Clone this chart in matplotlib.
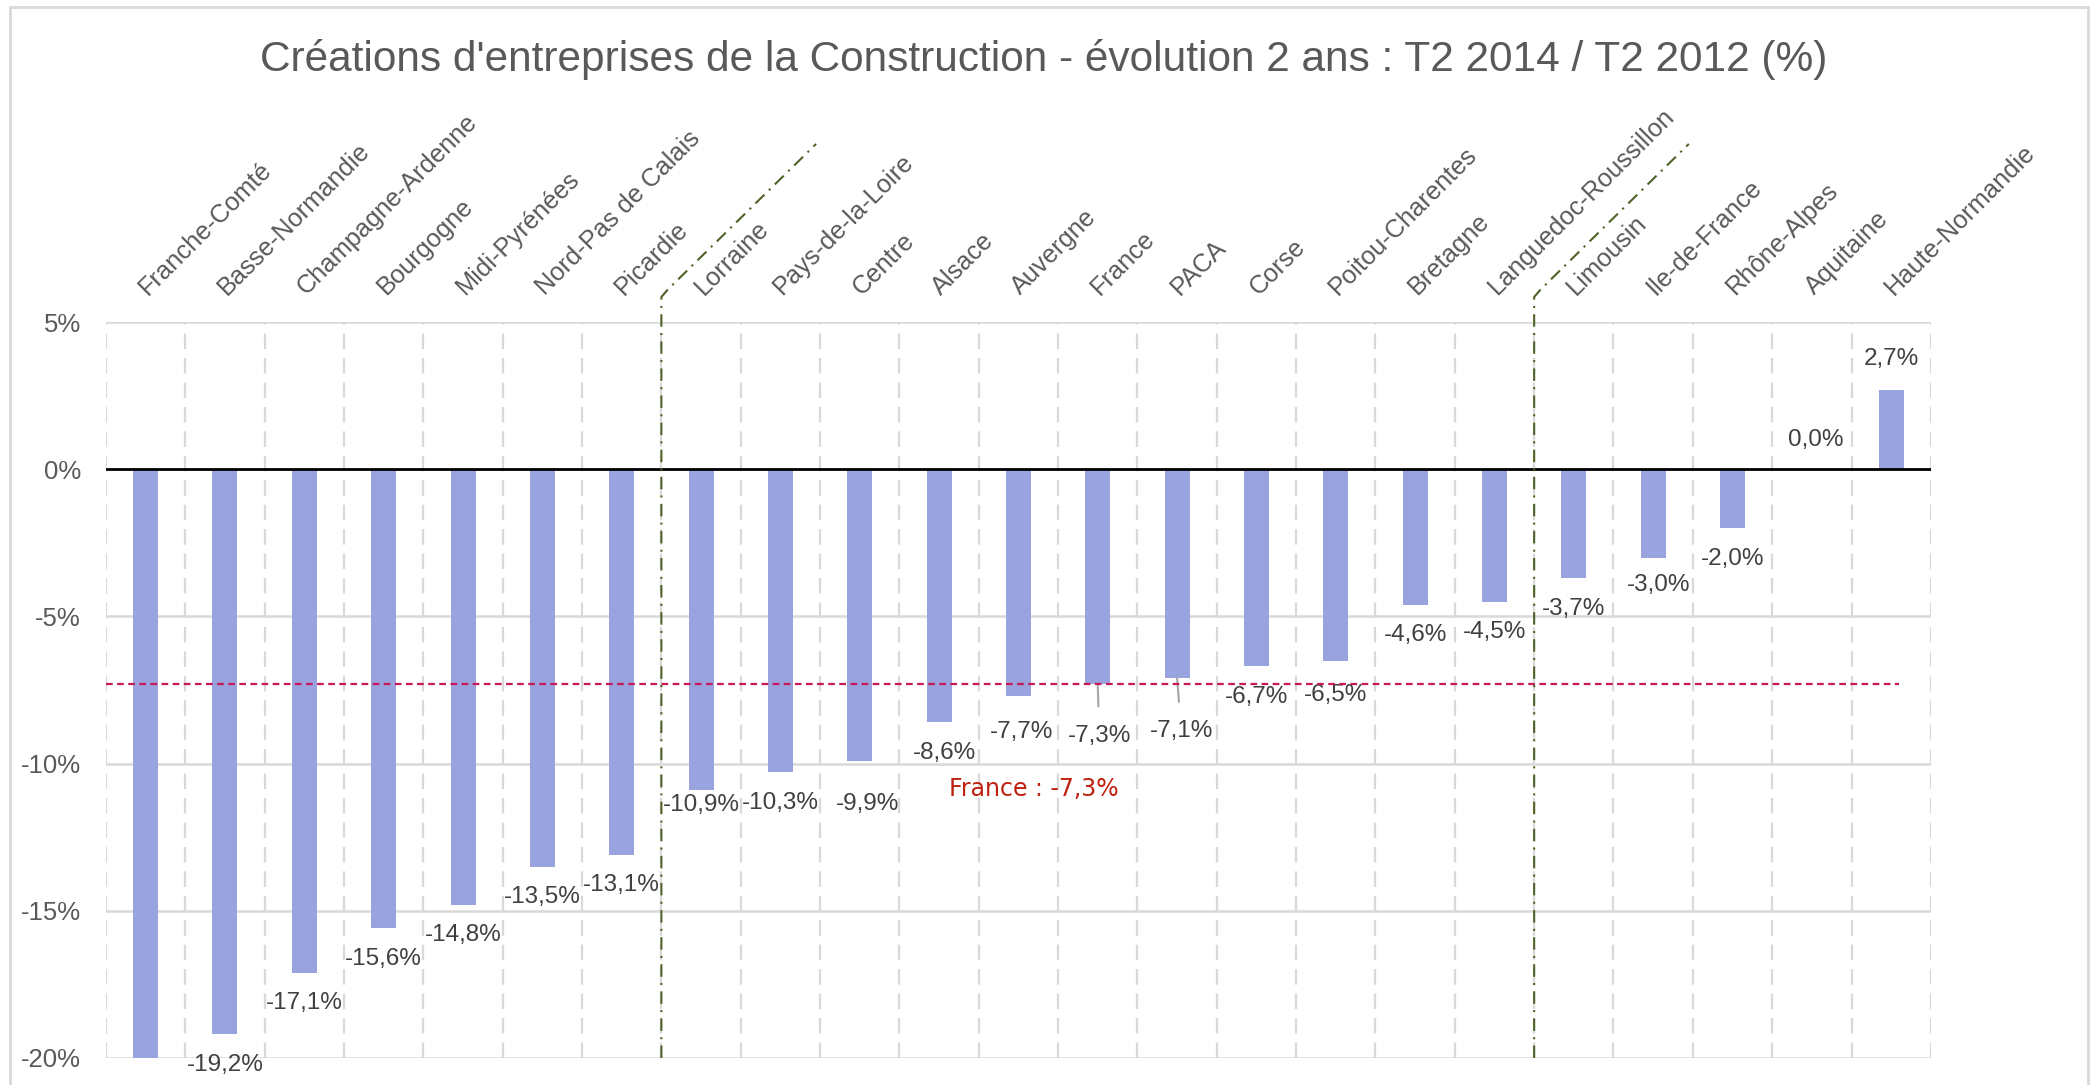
# Créations d'entreprises de la Construction par région, évolution sur 2 ans
import matplotlib
matplotlib.use("Agg")
import matplotlib.pyplot as plt
from matplotlib.patches import Rectangle
from matplotlib.ticker import FuncFormatter

regions = ["Franche-Comté", "Basse-Normandie", "Champagne-Ardenne", "Bourgogne",
           "Midi-Pyrénées", "Nord-Pas de Calais", "Picardie", "Lorraine",
           "Pays-de-la-Loire", "Centre", "Alsace", "Auvergne", "France", "PACA",
           "Corse", "Poitou-Charentes", "Bretagne", "Languedoc-Roussillon",
           "Limousin", "Ile-de-France", "Rhône-Alpes", "Aquitaine", "Haute-Normandie"]
evolution = [-20.3, -19.2, -17.1, -15.6, -14.8, -13.5, -13.1, -10.9, -10.3, -9.9,
             -8.6, -7.7, -7.3, -7.1, -6.7, -6.5, -4.6, -4.5, -3.7, -3.0, -2.0, 0.0, 2.7]
yticks = [-20, -15, -10, -5, 0, 5]

# séparations entre groupes de régions (après ces régions)
separations = ["Picardie", "Languedoc-Roussillon"]
france_val = evolution[regions.index("France")]

# décalages manuels des étiquettes (points) : région -> (dx, dy)
label_shift = {"Lorraine": (0, -11), "Centre": (6, -31), "Auvergne": (2, -26),
               "Alsace": (4, -22), "Poitou-Charentes": (0, -25),
               "Ile-de-France": (4, -20), "Aquitaine": (3, 21)}
leader = {"France": (1, -37), "PACA": (3, -38)}

bar_color = "#99A3DE"
grid_color = "#D9D9D9"
text_color = "#595959"
label_font = ["Liberation Sans", "DejaVu Sans"]

fig = plt.figure(figsize=(20.94, 10.85), dpi=100)
ax = fig.add_axes([0.0506, 0.0249, 0.8715, 0.6783])

x = list(range(len(regions)))
ax.set_xlim(-0.5, len(regions) - 0.5)
ax.set_ylim(yticks[0], yticks[-1])

# grille
for t in yticks:
    if t != 0:
        ax.axhline(t, color=grid_color, lw=1.8, zorder=0)
for b in range(len(regions) + 1):
    ax.axvline(b - 0.5, color=grid_color, lw=1.6, linestyle=(0, (7, 4)), zorder=0)

ax.bar(x, evolution, width=0.315, color=bar_color, zorder=2)
ax.axhline(0, color="black", lw=2, zorder=3)

# moyenne France
ax.hlines(france_val, -0.5, len(regions) - 0.9, color="#C8185A", lw=1.6,
          linestyles=(0, (3, 2)), zorder=4)
ax.text(11.2, -10.85, "France : " + f"{france_val:.1f}%".replace(".", ","),
        color="#C0200F", fontsize=17, ha="center", va="center",
        family="DejaVu Sans")

# étiquettes de valeurs
for i, (r, v) in enumerate(zip(regions, evolution)):
    if v < yticks[0]:
        continue
    txt = f"{v:.1f}%".replace(".", ",")
    if r in leader:
        dx, dy = leader[r]
        ax.annotate(txt, xy=(i, v), xytext=(dx, dy), textcoords="offset points",
                    ha="center", va="center", fontsize=17.5, color="#404040",
                    family=label_font,
                    arrowprops=dict(arrowstyle="-", color="#A6A6A6", lw=1.5,
                                    shrinkA=11, shrinkB=0))
        continue
    dx, dy = label_shift.get(r, (0, -22 if v < 0 else 22))
    ax.annotate(txt, xy=(i, v), xytext=(dx, dy), textcoords="offset points",
                ha="center", va="center", fontsize=17.5, color="#404040",
                family=label_font, annotation_clip=False)

# noms des régions inclinés au-dessus du graphique
for i, r in enumerate(regions):
    ax.text(i + 0.03, 5.9, r, rotation=45, rotation_mode="anchor",
            ha="left", va="baseline", fontsize=18.3, color=text_color,
            family=label_font, clip_on=False)

# traits de séparation des groupes
for s in separations:
    b = regions.index(s) + 0.5
    ax.plot([b, b, b + 0.08, b + 1.95], [yticks[0], 5.85, 6.1, 11.05],
            color="#4F6228", lw=1.5, linestyle=(0, (6, 3, 1, 3)),
            clip_on=False, zorder=5)

ax.set_yticks(yticks)
ax.yaxis.set_major_formatter(FuncFormatter(lambda v, p: f"{int(v)}%"))
ax.set_xticks([])
ax.tick_params(axis="y", length=0, pad=18, labelsize=18.5, labelcolor=text_color)
for lab in ax.get_yticklabels():
    lab.set_family(label_font)
for sp in ax.spines.values():
    sp.set_visible(False)

fig.text(0.4986, 0.945,
         "Créations d'entreprises de la Construction - évolution 2 ans : T2 2014 / T2 2012 (%)",
         ha="center", va="center", fontsize=30.5, color=text_color,
         family=label_font)

fig.patches.append(Rectangle((0.005, -0.01), 0.992, 1.0035, transform=fig.transFigure,
                             fill=False, edgecolor=grid_color, lw=2))

fig.savefig("out.png", dpi=100, facecolor="white")
